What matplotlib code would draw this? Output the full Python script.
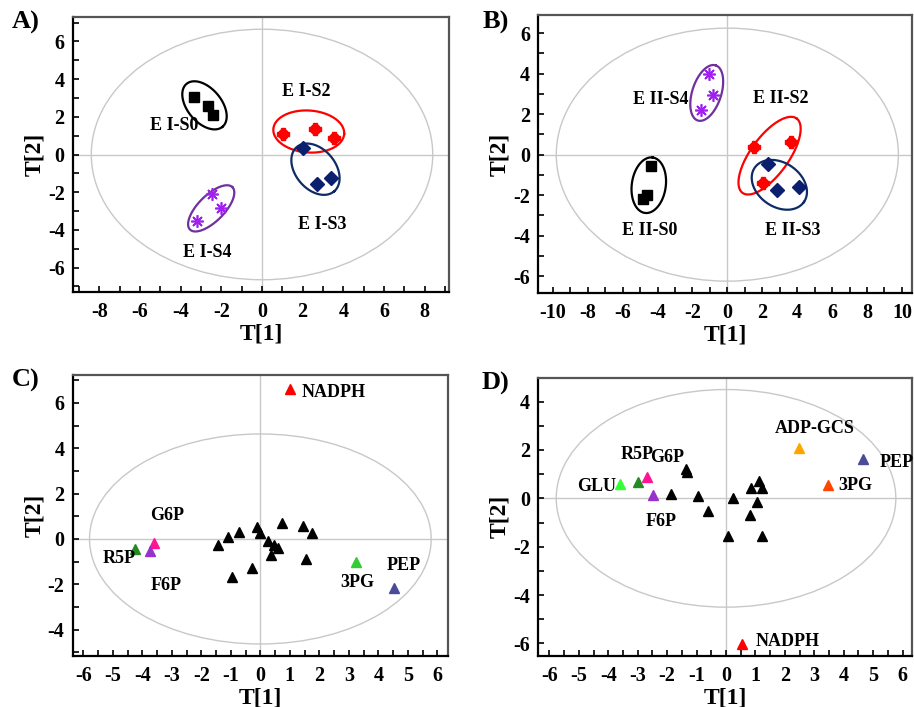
import numpy as np
import matplotlib
matplotlib.use("Agg")
import matplotlib.pyplot as plt
from matplotlib.patches import Ellipse
from matplotlib.ticker import MultipleLocator, FuncFormatter

plt.rcParams['font.family'] = ['Liberation Serif', 'DejaVu Serif']
plt.rcParams['font.weight'] = 'bold'

# ---------------- Panel A data (scores) ----------------
A_S0_x = [-3.33, -2.64, -2.40]
A_S0_y = [3.05, 2.55, 2.08]
A_S2_x = [1.05, 2.61, 3.56]
A_S2_y = [1.07, 1.34, 0.88]
A_S3_x = [2.00, 2.72, 3.40]
A_S3_y = [0.35, -1.57, -1.27]
A_S4_x = [-2.45, -2.02, -3.19]
A_S4_y = [-2.10, -2.83, -3.51]
A_labels = ["E I-S0", "E I-S2", "E I-S3", "E I-S4"]
A_label_x = [-4.30, 2.17, 2.94, -2.69]
A_label_y = [1.55, 3.37, -3.69, -5.19]

# ---------------- Panel B data (scores) ----------------
B_S0_x = [-4.39, -4.62, -4.81]
B_S0_y = [-0.56, -1.99, -2.20]
B_S2_x = [1.55, 3.65, 2.03]
B_S2_y = [0.39, 0.64, -1.38]
B_S3_x = [2.35, 2.83, 4.11]
B_S3_y = [-0.47, -1.77, -1.61]
B_S4_x = [-1.03, -0.80, -1.51]
B_S4_y = [3.97, 2.96, 2.20]
B_labels = ["E II-S0", "E II-S2", "E II-S3", "E II-S4"]
B_label_x = [-4.47, 3.08, 3.72, -3.82]
B_label_y = [-3.76, 2.78, -3.76, 2.74]

# ---------------- Panel C data (loadings) ----------------
C_names = ["NADPH", "G6P", "F6P", "R5P", "3PG", "PEP"]
C_named_x = [1.00, -3.59, -3.74, -4.24, 3.24, 4.54]
C_named_y = [6.60, -0.16, -0.53, -0.46, -1.00, -2.15]
C_black_x = [-1.42, -1.08, -0.71, -0.95, -0.12, -0.01, -0.27, 0.25, 0.46,
             0.61, 0.35, 0.72, 1.44, 1.74, 1.55]
C_black_y = [-0.26, 0.10, 0.32, -1.66, 0.54, 0.28, -1.29, -0.07, -0.26,
             -0.41, -0.71, 0.69, 0.57, 0.28, -0.88]
C_label_x = [1.40, -3.15, -3.21, -4.78, 3.27, 4.85]
C_label_y = [6.47, 1.03, -2.03, -0.85, -1.91, -1.19]

# ---------------- Panel D data (loadings) ----------------
D_names = ["ADP-GCS", "PEP", "3PG", "NADPH", "GLU", "R5P", "G6P", "F6P"]
D_named_x = [2.49, 4.64, 3.46, 0.54, -3.61, -2.99, -2.68, -2.49]
D_named_y = [2.07, 1.63, 0.55, -6.04, 0.59, 0.66, 0.88, 0.15]
D_black_x = [-1.36, -1.32, -1.87, -0.94, -0.60, 0.23, 0.06, 0.85, 1.13,
             1.22, 1.06, 0.82, 1.23]
D_black_y = [1.20, 1.08, 0.18, 0.10, -0.53, 0.00, -1.55, 0.41, 0.72,
             0.41, -0.14, -0.69, -1.55]
D_label_x = [3.00, 5.80, 4.38, 2.08, -4.39, -3.03, -1.99, -2.22]
D_label_y = [2.88, 1.49, 0.52, -5.90, 0.51, 1.82, 1.68, -0.94]

# ---------------- styling ----------------
GRAY = '#c8c8c8'
C_RED = '#ff0000'
C_NAVY = '#0b1f6e'
C_PURP_M = '#a020f0'
C_PURP_E = '#7030a0'
C_ELL_NAVY = '#0d2b66'

tri_colors_C = ['#ff0000', '#ff1493', '#9932cc', '#228b22', '#33cc33', '#4b4b9b']
tri_colors_D = ['#ffa500', '#4b4b9b', '#ff4500', '#ff0000', '#33ff33', '#228b22',
                '#ff1493', '#9932cc']

fig = plt.figure(figsize=(9.14, 7.07), dpi=100)

def style_axes(ax, xlim, ylim, xmaj, xmin, ymaj, ymin):
    ax.set_xlim(*xlim)
    ax.set_ylim(*ylim)
    ax.xaxis.set_major_locator(MultipleLocator(xmaj))
    ax.xaxis.set_minor_locator(MultipleLocator(xmin))
    ax.yaxis.set_major_locator(MultipleLocator(ymaj))
    ax.yaxis.set_minor_locator(MultipleLocator(ymin))
    ax.xaxis.set_major_formatter(FuncFormatter(lambda v, p: '%d' % round(v)))
    ax.yaxis.set_major_formatter(FuncFormatter(lambda v, p: '%d' % round(v)))
    ax.tick_params(which='both', direction='in', length=4, width=1.2,
                   labelsize=14.5, top=False, right=False)
    ax.tick_params(axis='x', pad=7)
    ax.tick_params(axis='y', pad=6)
    for s in ['bottom', 'left']:
        ax.spines[s].set_color('black')
        ax.spines[s].set_linewidth(1.6)
    for s in ['top', 'right']:
        ax.spines[s].set_color('#555555')
        ax.spines[s].set_linewidth(1.6)
    ax.axhline(0, color=GRAY, lw=1.0, zorder=0)
    ax.axvline(0, color=GRAY, lw=1.0, zorder=0)
    ax.set_xlabel('T[1]', fontsize=17, fontweight='bold', labelpad=1)
    ax.set_ylabel('T[2]', fontsize=17, fontweight='bold', labelpad=2)

def group_ellipse(ax, cx, cy, a_px, b_px, ang, color):
    t = np.linspace(0, 2 * np.pi, 300)
    c = ax.transData.transform((cx, cy))
    th = np.deg2rad(ang)
    x = a_px * np.cos(t)
    y = b_px * np.sin(t)
    X = c[0] + x * np.cos(th) - y * np.sin(th)
    Y = c[1] + x * np.sin(th) + y * np.cos(th)
    d = ax.transData.inverted().transform(np.column_stack([X, Y]))
    ax.plot(d[:, 0], d[:, 1], color=color, lw=1.6, zorder=2)

def hotelling(ax, rx, ry):
    ax.add_patch(Ellipse((0, 0), 2 * rx, 2 * ry, fill=False, ec=GRAY, lw=1.0, zorder=1))

def panel_label(x, y, s):
    fig.text(x / 914, 1 - y / 707, s, fontsize=19, fontweight='bold',
             ha='left', va='center')

def scores(ax, s0x, s0y, s2x, s2y, s3x, s3y, s4x, s4y):
    ax.plot(s0x, s0y, 's', color='black', ms=7.5, ls='none', zorder=3)
    ax.plot(s2x, s2y, 'o', color=C_RED, ms=7, ls='none', zorder=3)
    ax.plot(s2x, s2y, 'P', color=C_RED, ms=8.5, ls='none', zorder=3)
    ax.plot(s3x, s3y, 'D', color=C_NAVY, ms=7, ls='none', zorder=3)
    ax.plot(s4x, s4y, marker=(8, 2, 0), color=C_PURP_M, ms=9, mew=1.2,
            ls='none', zorder=3)

# ---------------- Panel A ----------------
axA = fig.add_axes([73 / 914, 1 - 292 / 707, 376 / 914, 275 / 707])
style_axes(axA, (-9.3, 9.2), (-7.3, 7.3), 2, 1, 2, 1)
hotelling(axA, 8.4, 6.65)
scores(axA, A_S0_x, A_S0_y, A_S2_x, A_S2_y, A_S3_x, A_S3_y, A_S4_x, A_S4_y)
group_ellipse(axA, -2.83, 2.61, 28, 17, -50, 'black')
group_ellipse(axA, 2.30, 1.22, 35.5, 21, -4, C_RED)
group_ellipse(axA, 2.63, -0.78, 29, 20, -50, C_ELL_NAVY)
group_ellipse(axA, -2.50, -2.86, 30, 13, 45, C_PURP_E)
for s, x, y in zip(A_labels, A_label_x, A_label_y):
    axA.text(x, y, s, fontsize=13, fontweight='bold', ha='center', va='center', zorder=4)
panel_label(12, 22, 'A)')

# ---------------- Panel B ----------------
axB = fig.add_axes([538.3 / 914, 1 - 293.3 / 707, 373.7 / 914, 278.3 / 707])
style_axes(axB, (-10.83, 10.58), (-6.85, 6.9), 2, 1, 2, 1)
hotelling(axB, 9.8, 6.25)
scores(axB, B_S0_x, B_S0_y, B_S2_x, B_S2_y, B_S3_x, B_S3_y, B_S4_x, B_S4_y)
group_ellipse(axB, -4.50, -1.51, 28, 17, 82, 'black')
group_ellipse(axB, 2.42, -0.05, 46, 19, 54, C_RED)
group_ellipse(axB, 2.98, -1.49, 30, 22, -35, C_ELL_NAVY)
group_ellipse(axB, -1.18, 3.05, 29, 14.5, 72, C_PURP_E)
for s, x, y in zip(B_labels, B_label_x, B_label_y):
    axB.text(x, y, s, fontsize=13, fontweight='bold', ha='center', va='center', zorder=4)
panel_label(483, 22, 'B)')

# ---------------- Panel C ----------------
axC = fig.add_axes([72.7 / 914, 1 - 656 / 707, 375.6 / 914, 281 / 707])
style_axes(axC, (-6.36, 6.37), (-5.16, 7.23), 1, 0.5, 2, 1)
hotelling(axC, 5.79, 4.63)
axC.plot(C_black_x, C_black_y, '^', color='black', ms=7, ls='none', zorder=3)
for x, y, c in zip(C_named_x, C_named_y, tri_colors_C):
    axC.plot([x], [y], '^', color=c, ms=7, ls='none', zorder=3)
for s, x, y in zip(C_names, C_label_x, C_label_y):
    ha = 'left' if s == 'NADPH' else 'center'
    axC.text(x, y, s, fontsize=13, fontweight='bold', ha=ha, va='center', zorder=4)
panel_label(12, 380, 'C)')

# ---------------- Panel D ----------------
axD = fig.add_axes([538.3 / 914, 1 - 656 / 707, 374 / 914, 278.3 / 707])
style_axes(axD, (-6.38, 6.33), (-6.52, 4.99), 1, 0.5, 2, 1)
hotelling(axD, 5.77, 4.5)
axD.plot(D_black_x, D_black_y, '^', color='black', ms=7, ls='none', zorder=3)
for x, y, c in zip(D_named_x, D_named_y, tri_colors_D):
    axD.plot([x], [y], '^', color=c, ms=7, ls='none', zorder=3)
for s, x, y in zip(D_names, D_label_x, D_label_y):
    axD.text(x, y, s, fontsize=13, fontweight='bold', ha='center', va='center', zorder=4)
panel_label(482, 383, 'D)')

fig.savefig('out.png', dpi=100)
